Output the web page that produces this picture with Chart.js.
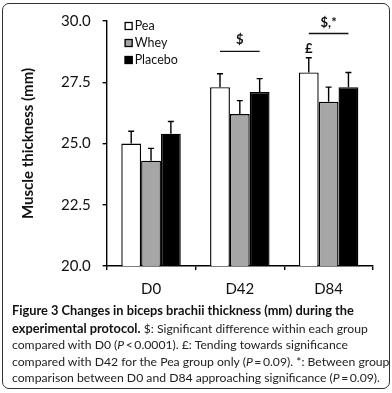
<!DOCTYPE html>
<html>
<head>
<meta charset="utf-8">
<script src="https://cdn.jsdelivr.net/npm/chart.js@4.4.1/dist/chart.umd.min.js"></script>
<style>
  html, body { margin: 0; padding: 0; background: #fff; }
  body { width: 392px; height: 393px; position: relative; overflow: hidden; }
  #frame {
    position: absolute; left: 2px; top: 3px; right: 2px; bottom: 4px;
    border: 1.5px solid #333; border-radius: 7px;
  }
  #wrap { position: absolute; left: 0; top: 0; width: 392px; height: 310px; }
  #caption {
    position: absolute; left: 12px; top: 302px; width: 378px;
    font-family: Lato, sans-serif; font-size: 12.2px; line-height: 16.6px;
    color: #222; white-space: nowrap; overflow: hidden;
  }
  #caption b { font-weight: 700; color: #111; font-size: 12.8px; }
</style>
</head>
<body>
<div id="frame"></div>
<div id="wrap"><canvas id="grafico"></canvas></div>
<div id="caption">
  <b>Figure 3 Changes in biceps brachii thickness (mm) during the</b><br>
  <b>experimental protocol.</b> $: Significant difference within each group<br>
  compared with D0 (<i>P</i>&thinsp;&lt;&thinsp;0.0001). £: Tending towards significance<br>
  compared with D42 for the Pea group only (<i>P</i>&thinsp;=&thinsp;0.09). *: Between group<br>
  comparison between D0 and D84 approaching significance (<i>P</i>&thinsp;=&thinsp;0.09).
</div>
<script>
// Dados
const dias = ["D0", "D42", "D84"];
const pea = [25.0, 27.3, 27.9];
const whey = [24.3, 26.2, 26.7];
const placebo = [25.4, 27.1, 27.3];
const erroPea = [0.5, 0.55, 0.6];
const erroWhey = [0.5, 0.55, 0.6];
const erroPlacebo = [0.5, 0.55, 0.6];
const yTicks = [20.0, 22.5, 25.0, 27.5, 30.0];

// anotações: texto, categoria, valor y do texto, valor y da linha (null = sem linha)
const anotacoes = [
  { texto: "$", cat: 1, yTexto: 29.25, yLinha: 28.76 },
  { texto: "$,*", cat: 2, yTexto: 29.93, yLinha: 29.49 },
  { texto: "£", cat: 2, yTexto: 28.88, yLinha: null, soPea: true }
];

const erros = [erroPea, erroWhey, erroPlacebo];
const fonte = "Lato, sans-serif";

// barras de erro (só para cima)
const errorBars = {
  id: "errorBars",
  afterDatasetsDraw(chart) {
    const ctx = chart.ctx;
    const y = chart.scales.y;
    ctx.save();
    ctx.strokeStyle = "#000";
    ctx.lineWidth = 1.4;
    chart.data.datasets.forEach((ds, i) => {
      chart.getDatasetMeta(i).data.forEach((bar, j) => {
        const topo = y.getPixelForValue(ds.data[j] + erros[i][j]);
        ctx.beginPath();
        ctx.moveTo(bar.x, bar.y);
        ctx.lineTo(bar.x, topo);
        ctx.moveTo(bar.x - 3, topo);
        ctx.lineTo(bar.x + 3, topo);
        ctx.stroke();
      });
    });
    ctx.restore();
  }
};

// legenda dentro do gráfico
const legendaInterna = {
  id: "legendaInterna",
  afterDraw(chart) {
    const ctx = chart.ctx;
    const x0 = chart.chartArea.left + 18;
    ctx.save();
    ctx.font = "12.5px " + fonte;
    ctx.textBaseline = "middle";
    chart.data.datasets.forEach((ds, i) => {
      const yc = chart.chartArea.top + 5 + i * 17;
      ctx.fillStyle = ds.backgroundColor;
      ctx.fillRect(x0, yc - 4, 8, 8);
      ctx.strokeStyle = "#000";
      ctx.lineWidth = 1.3;
      ctx.strokeRect(x0 + 0.5, yc - 3.5, 7, 7);
      ctx.fillStyle = "#111";
      ctx.fillText(ds.label, x0 + 10, yc);
    });
    ctx.restore();
  }
};

// anotações de significância
const significancia = {
  id: "significancia",
  afterDraw(chart) {
    const ctx = chart.ctx;
    const y = chart.scales.y;
    const m0 = chart.getDatasetMeta(0).data;
    const m2 = chart.getDatasetMeta(2).data;
    ctx.save();
    ctx.fillStyle = "#111";
    ctx.strokeStyle = "#111";
    ctx.lineWidth = 1.4;
    ctx.font = "bold 13px " + fonte;
    ctx.textAlign = "center";
    ctx.textBaseline = "middle";
    anotacoes.forEach(a => {
      const xa = m0[a.cat].x, xb = m2[a.cat].x;
      const xc = a.soPea ? xa : (xa + xb) / 2;
      ctx.fillText(a.texto, xc, y.getPixelForValue(a.yTexto));
      if (a.yLinha !== null) {
        const yl = y.getPixelForValue(a.yLinha);
        ctx.beginPath();
        ctx.moveTo(xa, yl);
        ctx.lineTo(xb, yl);
        ctx.stroke();
      }
    });
    ctx.restore();
  }
};

new Chart(document.getElementById("grafico"), {
  type: "bar",
  data: {
    labels: dias,
    datasets: [
      { label: "Pea", data: pea, backgroundColor: "#ffffff" },
      { label: "Whey", data: whey, backgroundColor: "#a6a6a6" },
      { label: "Placebo", data: placebo, backgroundColor: "#000000" }
    ].map(d => Object.assign(d, { borderColor: "#000", borderWidth: 1.4, borderSkipped: "bottom" }))
  },
  options: {
    responsive: true,
    maintainAspectRatio: false,
    animation: false,
    categoryPercentage: 0.67,
    barPercentage: 1.0,
    layout: { padding: { left: 19, right: 19, top: 12, bottom: 2 } },
    plugins: { legend: { display: false }, tooltip: { enabled: false } },
    scales: {
      x: {
        grid: { drawOnChartArea: false, drawTicks: true, tickLength: 4, color: "#000", lineWidth: 1.4 },
        border: { display: true, color: "#000", width: 1.4 },
        ticks: { color: "#111", padding: 10, font: { family: fonte, size: 15 } }
      },
      y: {
        min: 20, max: 30,
        afterBuildTicks: ax => { ax.ticks = yTicks.map(v => ({ value: v })); },
        grid: { drawOnChartArea: false, drawTicks: true, tickLength: 4, color: "#000", lineWidth: 1.4 },
        border: { display: true, color: "#000", width: 1.4 },
        ticks: {
          color: "#111", padding: 12,
          font: { family: fonte, size: 15 },
          callback: v => v.toFixed(1)
        },
        title: {
          display: true, text: "Muscle thickness (mm)", color: "#111",
          font: { family: fonte, size: 15, weight: "bold" },
          padding: { top: 0, bottom: 12 }
        }
      }
    }
  },
  plugins: [errorBars, legendaInterna, significancia]
});
</script>
</body>
</html>
